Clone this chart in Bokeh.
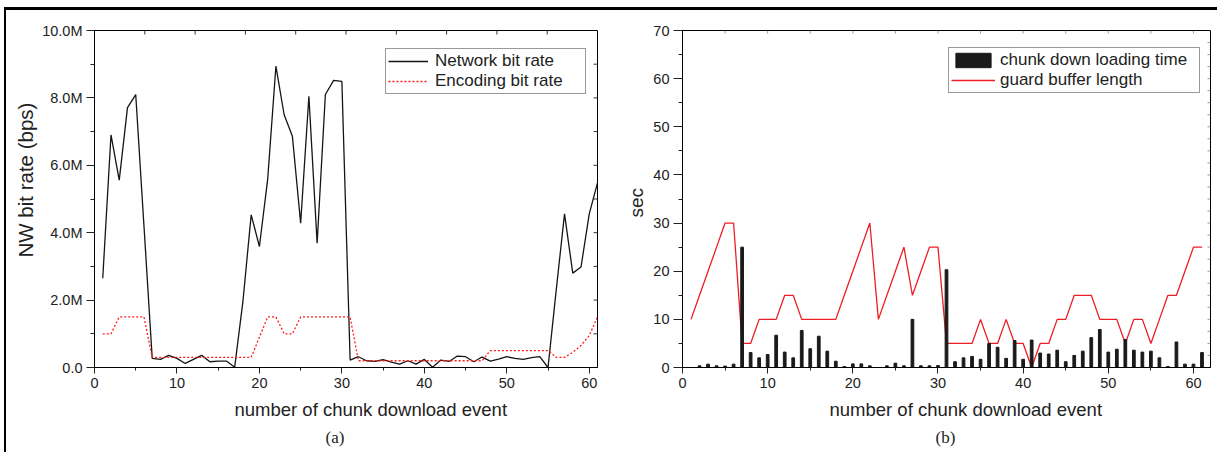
import math
from bokeh.plotting import figure
from bokeh.models import Range1d, FixedTicker, Legend, LegendItem, Title
from bokeh.layouts import row
from bokeh.embed import file_html
from bokeh.resources import INLINE

# ---------------- data ----------------
event = list(range(1, 62))

network_mbps = [2.65, 6.9, 5.56, 7.71, 8.1, 4.2, 0.27, 0.24, 0.36, 0.27,
                0.12, 0.24, 0.36, 0.17, 0.19, 0.19, 0.01, 1.96, 4.53, 3.59,
                5.58, 8.94, 7.5, 6.86, 4.28, 8.05, 3.69, 8.1, 8.52, 8.49,
                0.22, 0.32, 0.2, 0.18, 0.23, 0.16, 0.10, 0.2, 0.10, 0.24,
                0.01, 0.22, 0.18, 0.34, 0.32, 0.17, 0.31, 0.19, 0.25, 0.32,
                0.27, 0.24, 0.29, 0.32, 0.0, 2.31, 4.56, 2.8, 2.98, 4.56, 5.48]

encoding_mbps = [1.0, 1.0, 1.5, 1.5, 1.5, 1.5, 0.3, 0.3, 0.3, 0.3,
                 0.3, 0.3, 0.3, 0.3, 0.3, 0.3, 0.3, 0.3, 0.3, 0.9,
                 1.5, 1.5, 1.0, 1.0, 1.5, 1.5, 1.5, 1.5, 1.5, 1.5,
                 1.5, 0.2, 0.2, 0.2, 0.2, 0.2, 0.2, 0.2, 0.2, 0.2,
                 0.2, 0.2, 0.2, 0.2, 0.2, 0.2, 0.2, 0.5, 0.5, 0.5,
                 0.5, 0.5, 0.5, 0.5, 0.5, 0.3, 0.3, 0.45, 0.65, 0.95, 1.5]

download_time = [0.0, 0.35, 0.7, 0.35, 0.3, 0.7, 25.0, 3.1, 2.0, 2.7,
                 6.7, 3.2, 2.0, 7.7, 3.9, 6.5, 3.4, 1.3, 0.2, 0.75,
                 0.75, 0.35, 0.0, 0.35, 0.9, 0.35, 10.0, 0.35, 0.35, 0.4,
                 20.3, 1.2, 2.0, 2.3, 1.7, 5.0, 4.2, 1.9, 5.6, 1.7,
                 5.7, 3.0, 2.8, 3.6, 1.2, 2.5, 3.4, 6.2, 7.9, 3.2,
                 3.8, 5.8, 3.6, 3.2, 3.4, 2.0, 0.2, 5.3, 0.7, 0.7, 3.1]

guard_buffer = [10, 15, 20, 25, 30, 30, 5, 5, 10, 10,
                10, 15, 15, 10, 10, 10, 10, 10, 15, 20,
                25, 30, 10, 15, 20, 25, 15, 20, 25, 25,
                5, 5, 5, 5, 10, 5, 5, 10, 5, 5,
                0, 5, 5, 10, 10, 15, 15, 15, 10, 10,
                10, 5, 10, 10, 5, 10, 15, 15, 20, 25, 25]

x_ticks = [0, 10, 20, 30, 40, 50, 60]
x_minor = [5, 15, 25, 35, 45, 55]
rate_ticks = [0, 2, 4, 6, 8, 10]
rate_minor = [1, 3, 5, 7, 9]
rate_tick_labels = ["0.0", "2.0M", "4.0M", "6.0M", "8.0M", "10.0M"]
sec_ticks = [0, 10, 20, 30, 40, 50, 60, 70]
sec_minor = [5, 15, 25, 35, 45, 55, 65]

# unlabeled inner tick marks on the top / right frame edges
a_top_ticks = list(range(1, 10))            # on a 0..10 helper scale
a_right_ticks = list(range(1, 10))          # every 1M
b_top_ticks = list(range(5, 61, 5))
b_right_ticks = [i * 2.5 for i in range(1, 28)]

FONT = "Liberation Sans"
SERIF = "Liberation Serif"
TXT = "#222222"


def style_axis(ax, mj_out, mn_out):
    ax.major_tick_in = 0
    ax.major_tick_out = mj_out
    ax.minor_tick_in = 0
    ax.minor_tick_out = mn_out
    ax.axis_line_color = "black"
    ax.major_tick_line_color = "#222222"
    ax.minor_tick_line_color = "#222222"
    ax.major_label_text_font = FONT
    ax.major_label_text_font_size = "14.5px"
    ax.major_label_text_color = TXT
    ax.major_label_standoff = 4


def add_title(p, text, side, size, offset, standoff, font=FONT):
    p.add_layout(Title(text=text, align="left", offset=offset, standoff=standoff,
                       text_font=font, text_font_size=size, text_font_style="normal",
                       text_color=TXT), side)


def base_fig(width, x_end, y_end, left, right, top, bottom):
    p = figure(width=width, height=442, x_range=Range1d(0, x_end), y_range=Range1d(0, y_end),
               output_backend="svg", toolbar_location=None,
               min_border_left=left, min_border_right=right,
               min_border_top=top, min_border_bottom=bottom)
    p.xgrid.visible = False
    p.ygrid.visible = False
    p.outline_line_color = "black"
    p.outline_line_width = 1
    p.background_fill_color = "white"
    p.border_fill_color = "white"
    return p


# ---------------- (a) ----------------
pa = base_fig(604, 61, 10, 88, 13, 20, 84)
pa.xaxis.ticker = FixedTicker(ticks=x_ticks, minor_ticks=x_minor)
style_axis(pa.xaxis[0], 6, 3)
pa.yaxis.ticker = FixedTicker(ticks=rate_ticks, minor_ticks=rate_minor)
pa.yaxis.major_label_overrides = dict(zip(rate_ticks, rate_tick_labels))
style_axis(pa.yaxis[0], 8, 4)

pa.extra_x_ranges = {"top": Range1d(0, 10)}
pa.ray(x=a_top_ticks, y=10, length=4, angle=-math.pi / 2, length_units="screen",
       x_range_name="top", line_color="#333333", line_width=1)
pa.ray(x=61, y=a_right_ticks, length=4, angle=math.pi, length_units="screen",
       line_color="#333333", line_width=1)

ra1 = pa.line(event, network_mbps, line_color="#151515", line_width=1.3)
ra2 = pa.line(event, encoding_mbps, line_color="#ff1a1a", line_width=1.3, line_dash="2 2")

leg_a = Legend(items=[LegendItem(label="Network bit rate", renderers=[ra1]),
                      LegendItem(label="Encoding bit rate", renderers=[ra2])],
               location=(291, 273), margin=0, padding=2, spacing=0,
               label_standoff=7, glyph_width=40, glyph_height=18, label_height=18,
               label_width=148, border_line_color="#333333", border_line_width=1.2,
               label_text_font=FONT, label_text_font_size="17px", label_text_color=TXT,
               background_fill_color="white", background_fill_alpha=1.0)
pa.add_layout(leg_a)

add_title(pa, "number of chunk download event", "below", "18.5px", 140, 12)
add_title(pa, "(a)", "below", "17px", 231, 0, font=SERIF)
add_title(pa, "NW bit rate (bps)", "left", "20.5px", 110, 6)

# ---------------- (b) ----------------
pb = base_fig(607, 62, 70, 72, 7, 16, 85)
pb.xaxis.ticker = FixedTicker(ticks=x_ticks, minor_ticks=x_minor)
style_axis(pb.xaxis[0], 6, 3)
pb.yaxis.ticker = FixedTicker(ticks=sec_ticks, minor_ticks=sec_minor)
style_axis(pb.yaxis[0], 9, 4)

pb.ray(x=b_top_ticks, y=70, length=3, angle=-math.pi / 2, length_units="screen",
       line_color="#999999", line_width=1)
pb.ray(x=62, y=b_right_ticks, length=3, angle=math.pi, length_units="screen",
       line_color="#999999", line_width=1)

rb2 = pb.line(event, guard_buffer, line_color="#ee1c25", line_width=1.3)
rb1 = pb.vbar(x=event, top=download_time, width=0.32, fill_color="#1a1a1a", line_color="#1a1a1a")

leg_b = Legend(items=[LegendItem(label="chunk down loading time", renderers=[rb1]),
                      LegendItem(label="guard buffer length", renderers=[rb2])],
               location=(266, 274), margin=0, padding=2, spacing=0,
               label_standoff=5, glyph_width=44, glyph_height=18, label_height=18,
               label_width=197, border_line_color="#333333", border_line_width=1.2,
               label_text_font=FONT, label_text_font_size="17px", label_text_color=TXT,
               background_fill_color="white", background_fill_alpha=1.0)
pb.add_layout(leg_b)

add_title(pb, "number of chunk download event", "below", "18.5px", 147, 12)
add_title(pb, "(b)", "below", "17px", 253, 0, font=SERIF)
add_title(pb, "sec", "left", "19px", 150, 7)

layout = row(pa, pb, styles={"margin-top": "7px", "margin-left": "4px",
                             "border-top": "3px solid black",
                             "border-left": "2px solid black"})

open("out.html", "w").write(file_html(layout, INLINE))
